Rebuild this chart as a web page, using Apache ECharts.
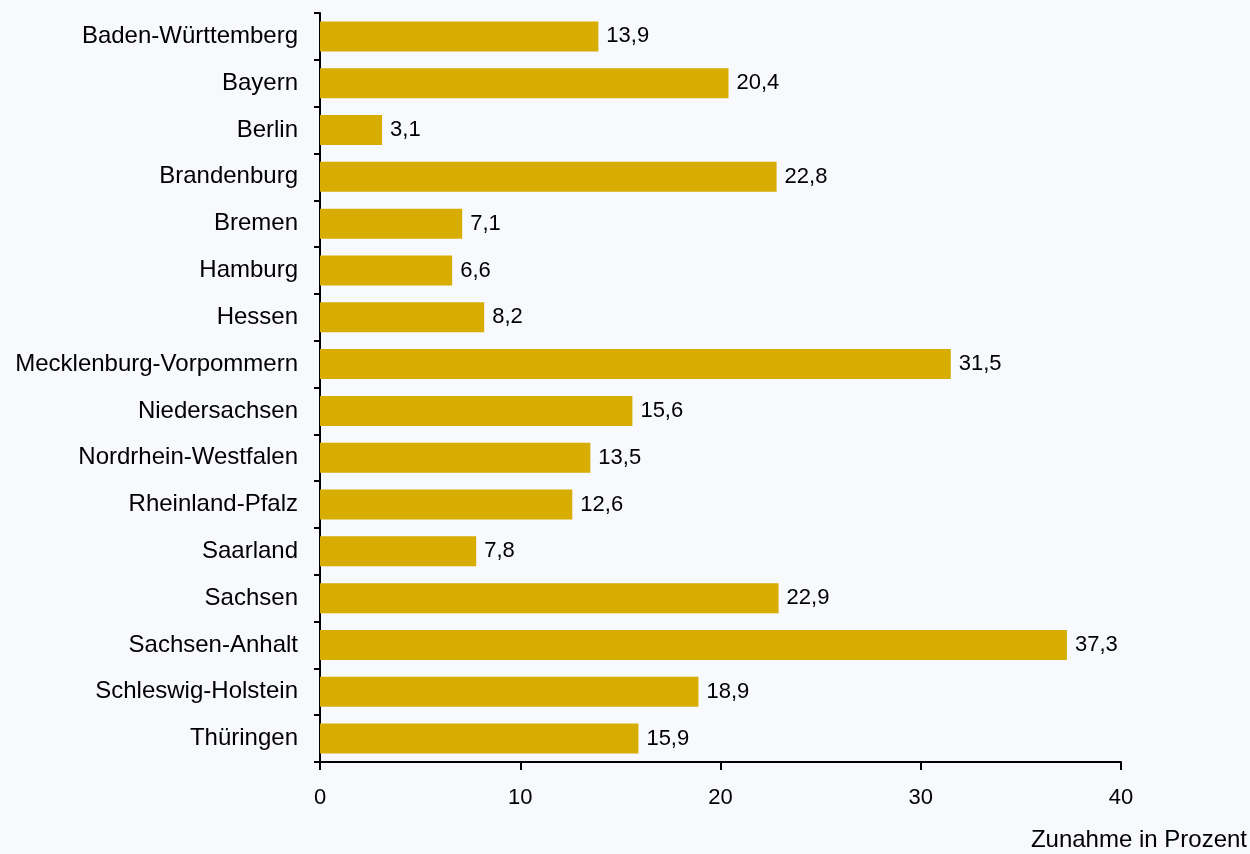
<!DOCTYPE html>
<html><head><meta charset="utf-8">
<script src="https://cdn.jsdelivr.net/npm/echarts@6/dist/echarts.min.js"></script>
<style>html,body{margin:0;padding:0;background:#f8f9fd}#c{width:1250px;height:854px}</style>
</head><body><div id="c"></div>
<script>
const categories = ["Baden-Württemberg","Bayern","Berlin","Brandenburg","Bremen","Hamburg","Hessen","Mecklenburg-Vorpommern","Niedersachsen","Nordrhein-Westfalen","Rheinland-Pfalz","Saarland","Sachsen","Sachsen-Anhalt","Schleswig-Holstein","Thüringen"];
const values = [13.9,20.4,3.1,22.8,7.1,6.6,8.2,31.5,15.6,13.5,12.6,7.8,22.9,37.3,18.9,15.9];
const axisTitle = "Zunahme in Prozent";
const font = "Liberation Sans, Arial, sans-serif";
const chart = echarts.init(document.getElementById('c'));
chart.setOption({
  backgroundColor: '#f8f9fd',
  animation: false,
  grid: {left: 320, right: 129, top: 13, bottom: 92, containLabel: false},
  xAxis: {
    type: 'value', min: 0, max: 40, interval: 10,
    axisLine: {show: true, lineStyle: {color: '#000', width: 2}},
    axisTick: {show: true, length: 8, lineStyle: {color: '#000', width: 2}},
    splitLine: {show: false},
    axisLabel: {color: '#000', fontSize: 22, fontFamily: font, margin: 25, formatter: v => String(v)}
  },
  yAxis: {
    type: 'category', data: categories, inverse: true,
    axisLine: {show: true, lineStyle: {color: '#000', width: 2}},
    axisTick: {show: true, length: 6, lineStyle: {color: '#000', width: 2}},
    axisLabel: {color: '#000', fontSize: 24, fontFamily: font, margin: 22}
  },
  series: [{
    type: 'bar', data: values, barCategoryGap: '36%',
    itemStyle: {color: '#d6ad00'},
    label: {show: true, position: 'right', distance: 8, color: '#000', fontSize: 22, fontFamily: font,
      formatter: p => String(p.value.toFixed(1)).replace('.', ',')}
  }],
  graphic: [{type: 'text', right: 3, top: 828, style: {text: axisTitle, fill: '#000', font: '24px ' + font}}]
});
</script></body></html>
